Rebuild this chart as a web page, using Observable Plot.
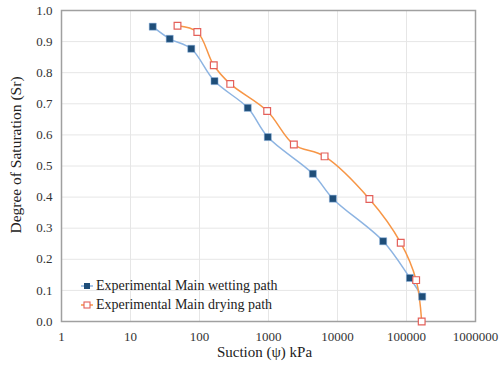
<!DOCTYPE html>
<html>
<head>
<meta charset="utf-8">
<script src="https://cdn.jsdelivr.net/npm/d3@7"></script>
<script src="https://cdn.jsdelivr.net/npm/@observablehq/plot@0.6"></script>
<style>
  html, body { margin: 0; padding: 0; background: #fff; }
  #wrap { position: relative; width: 499px; height: 367px; }
</style>
</head>
<body>
<div id="wrap"></div>
<script>
// Wetting path (filled squares)
const wetSuction = [21, 37, 76, 165, 500, 977, 4390, 8570, 45900, 112000, 169000];
const wetSr      = [0.948, 0.909, 0.877, 0.773, 0.687, 0.593, 0.475, 0.395, 0.258, 0.140, 0.080];
// Drying path (open squares)
const drySuction = [48, 93, 161, 279, 957, 2330, 6500, 29000, 82500, 138000, 166000];
const drySr      = [0.951, 0.931, 0.824, 0.764, 0.677, 0.569, 0.531, 0.394, 0.253, 0.133, 0.0];

const xTicks = [1, 10, 100, 1000, 10000, 100000, 1000000];
const yTicks = [0, 0.1, 0.2, 0.3, 0.4, 0.5, 0.6, 0.7, 0.8, 0.9, 1.0];
const seriesNames = ["Experimental Main wetting path", "Experimental Main drying path"];

const wet = wetSuction.map((s, i) => ({s, sr: wetSr[i]}));
const dry = drySuction.map((s, i) => ({s, sr: drySr[i]}));

const FONT = "Liberation Serif";
const wetLine = "#8DB4E2", wetMark = "#1F4E79";
const dryLine = "#F79646", dryMark = "#E4605A";

const chart = Plot.plot({
  width: 499,
  height: 367,
  marginLeft: 61,
  marginRight: 24,
  marginTop: 10,
  marginBottom: 46,
  style: {fontFamily: FONT, fontSize: "13px", color: "#333", background: "#fff"},
  x: {type: "log", domain: [1, 1000000], label: null},
  y: {domain: [0, 1], label: null},
  marks: [
    Plot.ruleX(xTicks, {stroke: "#e6e6e6", strokeWidth: 1}),
    Plot.ruleY(yTicks, {stroke: "#e6e6e6", strokeWidth: 1}),
    Plot.frame({stroke: "#a0a0a0", strokeWidth: 1.5}),
    Plot.line(wet, {x: "s", y: "sr", stroke: wetLine, strokeWidth: 1.5, curve: "catmull-rom"}),
    Plot.line(dry, {x: "s", y: "sr", stroke: dryLine, strokeWidth: 1.5, curve: "catmull-rom"}),
    Plot.dot(wet, {x: "s", y: "sr", symbol: "square", r: 4, fill: wetMark, stroke: wetLine, strokeWidth: 0.5}),
    Plot.dot(dry, {x: "s", y: "sr", symbol: "square", r: 3.8, fill: "white", stroke: dryMark, strokeWidth: 1.2}),
    Plot.axisX({ticks: xTicks, tickFormat: d => String(d), tickSize: 0, tickPadding: 10, label: null, fontSize: 13, fontFamily: FONT, fill: "#333"}),
    Plot.axisY({ticks: yTicks, tickFormat: d3.format(".1f"), tickSize: 0, tickPadding: 9, label: null, fontSize: 13, fontFamily: FONT, fill: "#333"}),
    Plot.text(["Suction (\u03C8) kPa"], {frameAnchor: "bottom", dx: -4, dy: 35, fontSize: 15, fontFamily: FONT, fill: "#222"}),
    Plot.text(["Degree of Saturation (Sr)"], {frameAnchor: "left", textAnchor: "middle", dx: -45, dy: -11, rotate: -90, fontSize: 15.5, fontFamily: FONT, fill: "#222"})
  ]
});

const wrap = document.getElementById("wrap");
wrap.appendChild(chart);

const legend = document.createElement("div");
legend.style.cssText = `position:absolute;left:81px;top:276px;font-family:'${FONT}';font-size:14px;color:#222;line-height:19px;`;
const rows = [
  `<svg width="12" height="10" style="margin-right:3px"><line x1="0" y1="5" x2="12" y2="5" stroke="${wetLine}" stroke-width="1.5"/><rect x="3" y="2" width="6" height="6" fill="${wetMark}"/></svg>`,
  `<svg width="12" height="10" style="margin-right:3px"><line x1="0" y1="5" x2="12" y2="5" stroke="${dryLine}" stroke-width="1.5"/><rect x="3" y="2" width="6" height="6" fill="white" stroke="${dryMark}" stroke-width="1.1"/></svg>`
];
legend.innerHTML = rows.map((r, i) => `<div style="display:flex;align-items:center;height:19px">${r}<span>${seriesNames[i]}</span></div>`).join("");
wrap.appendChild(legend);
</script>
</body>
</html>
